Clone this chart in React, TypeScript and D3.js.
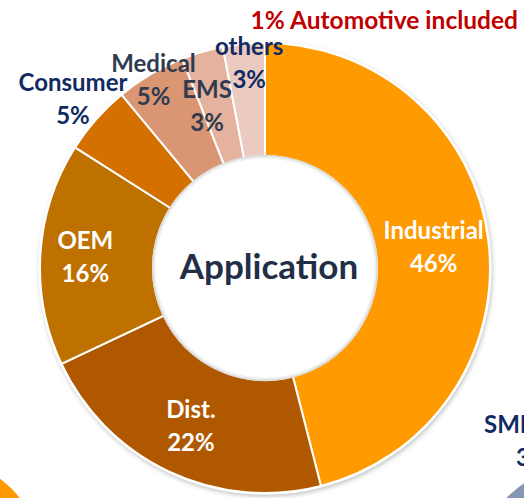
import React, { useEffect, useRef } from 'react';
import * as d3 from 'd3';

const categories = ['Industrial', 'Dist.', 'OEM', 'Consumer', 'Medical', 'EMS', 'others'];
const shares = [46, 22, 16, 5, 5, 3, 3];
const sliceColors = ['#FF9A00', '#AF5900', '#BF7100', '#D37000', '#DA9573', '#E5B29D', '#EBCBC0'];
const labelColors = ['#FFFFFF', '#FFFFFF', '#FFFFFF', '#102B63', '#2F3B50', '#2F3B50', '#102B63'];
// distance of each label pair from the centre, and a small turn (degrees) off the slice middle
const labelRadius = [170, 174, 180, 256, 219, 172, 206];
const labelTurn = [0, 0, 0, 0, 0, -3.5, 1];

const centerTitle = 'Application';
const note = '1% Automotive included';

const App = () => {
  const svgRef = useRef<SVGSVGElement>(null);

  useEffect(() => {
    document.body.style.margin = '0';
    const width = 524;
    const height = 498;
    const cx = 265;
    const cy = 268;
    const outerR = 225;
    const innerR = 112;
    const font = 'Lato, "Open Sans", sans-serif';

    const svg = d3.select(svgRef.current);
    svg.selectAll('*').remove();
    svg.attr('width', width).attr('height', height);

    const defs = svg.append('defs');
    defs.append('filter')
      .attr('id', 'shadow')
      .attr('x', '-10%').attr('y', '-10%').attr('width', '120%').attr('height', '120%')
      .append('feDropShadow')
      .attr('dx', 1).attr('dy', 2).attr('stdDeviation', 2)
      .attr('flood-color', '#888').attr('flood-opacity', 0.5);

    // fragments of the neighbouring charts at the bottom corners
    svg.append('circle')
      .attr('cx', -60).attr('cy', 560).attr('r', 101)
      .attr('fill', '#FF9A00');
    svg.append('circle')
      .attr('cx', 592).attr('cy', 582).attr('r', 120)
      .attr('fill', '#8497B0');

    const g = svg.append('g').attr('transform', `translate(${cx},${cy})`);

    const pie = d3.pie<number>().sort(null).value(d => d);
    const arcs = pie(shares);
    const arc = d3.arc<d3.PieArcDatum<number>>().innerRadius(innerR).outerRadius(outerR);

    const ring = g.append('g').attr('filter', 'url(#shadow)');
    ring.append('circle').attr('r', outerR + 1.5).attr('fill', '#fff');
    ring.selectAll('path.slice')
      .data(arcs)
      .enter()
      .append('path')
      .attr('class', 'slice')
      .attr('d', arc)
      .attr('fill', (d, i) => sliceColors[i])
      .attr('stroke', '#fff')
      .attr('stroke-width', 2);

    // centre hole
    g.append('circle')
      .attr('r', innerR)
      .attr('fill', '#fff')
      .attr('stroke', '#d9d9d9')
      .attr('stroke-width', 2);
    g.append('circle')
      .attr('r', innerR - 1.5)
      .attr('fill', 'none')
      .attr('stroke', '#f0f0f0')
      .attr('stroke-width', 2);

    g.append('text')
      .attr('x', 4)
      .attr('y', -1)
      .attr('dy', '0.35em')
      .attr('text-anchor', 'middle')
      .attr('font-family', font)
      .attr('font-weight', 'bold')
      .attr('font-size', 35)
      .attr('fill', '#222E45')
      .text(centerTitle);

    // slice labels
    arcs.forEach((d, i) => {
      const a = (d.startAngle + d.endAngle) / 2 + (labelTurn[i] * Math.PI) / 180;
      const x = labelRadius[i] * Math.sin(a);
      const y = -labelRadius[i] * Math.cos(a);
      const t = g.append('text')
        .attr('text-anchor', 'middle')
        .attr('font-family', font)
        .attr('font-weight', 'bold')
        .attr('font-size', 24)
        .attr('fill', labelColors[i]);
      t.append('tspan').attr('x', x).attr('y', y - 16).attr('dy', '0.35em').text(categories[i]);
      t.append('tspan').attr('x', x).attr('y', y + 17).attr('dy', '0.35em').text(`${shares[i]}%`);
    });

    svg.append('text')
      .attr('x', 518)
      .attr('y', 20)
      .attr('dy', '0.35em')
      .attr('text-anchor', 'end')
      .attr('font-family', font)
      .attr('font-weight', 'bold')
      .attr('font-size', 24.5)
      .attr('fill', '#C00000')
      .text(note);

    // cut-off label of the neighbouring chart
    const side = svg.append('text')
      .attr('font-family', font)
      .attr('font-weight', 'bold')
      .attr('font-size', 24)
      .attr('fill', '#102B63');
    side.append('tspan').attr('x', 484).attr('y', 425).attr('dy', '0.35em').text('SMI');
    side.append('tspan').attr('x', 516).attr('y', 458).attr('dy', '0.35em').text('3');
  }, []);

  return <svg ref={svgRef} style={{ display: 'block' }}></svg>;
};

export default App;
